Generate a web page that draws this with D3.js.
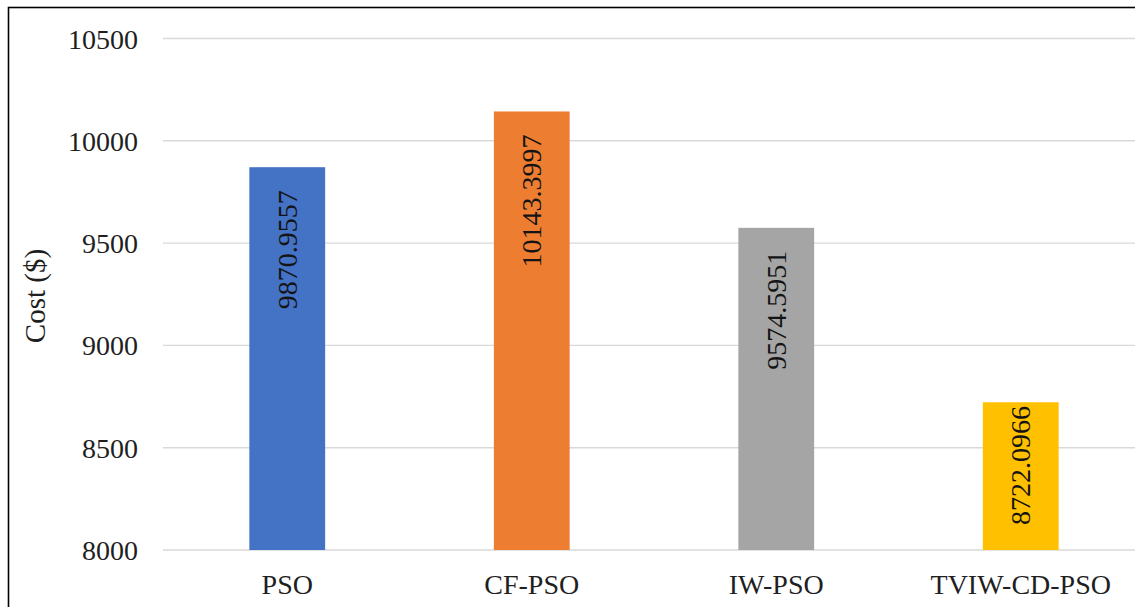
<!DOCTYPE html>
<html>
<head>
<meta charset="utf-8">
<script src="https://cdn.jsdelivr.net/npm/d3@7"></script>
<style>
  html, body { margin: 0; padding: 0; background: #fff; }
  svg { display: block; }
</style>
</head>
<body>
<svg id="chart" width="1135" height="607"></svg>
<script>
// Algorithm names and their resulting cost
const categories = ["PSO", "CF-PSO", "IW-PSO", "TVIW-CD-PSO"];
const costs = [9870.9557, 10143.3997, 9574.5951, 8722.0966];
const costLabels = ["9870.9557", "10143.3997", "9574.5951", "8722.0966"];
const barColors = ["#4472C4", "#ED7D31", "#A5A5A5", "#FFC000"];
const yTicks = [8000, 8500, 9000, 9500, 10000, 10500];

const FONT = "'Liberation Serif', 'Times New Roman', serif";
const svg = d3.select("#chart");

// outer frame
svg.append("rect")
  .attr("x", 8.5).attr("y", 7.5)
  .attr("width", 1140).attr("height", 640)
  .attr("fill", "none").attr("stroke", "#000").attr("stroke-width", 1.6);

const x = d3.scaleBand()
  .domain(categories)
  .range([165, 1143])
  .paddingInner(0.69)
  .paddingOuter(0.345);

const y = d3.scaleLinear()
  .domain([8000, 10500])
  .range([550, 38.5]);

// horizontal gridlines
svg.append("g")
  .selectAll("line")
  .data(yTicks)
  .join("line")
  .attr("x1", 163).attr("x2", 1135)
  .attr("y1", d => y(d)).attr("y2", d => y(d))
  .attr("stroke", "#d9d9d9").attr("stroke-width", 1.4);

// y tick labels
const yAxis = d3.axisLeft(y).tickValues(yTicks).tickSize(0).tickPadding(0).tickFormat(d3.format("d"));
const yg = svg.append("g").attr("transform", "translate(138,0)").call(yAxis);
yg.select(".domain").remove();
yg.attr("font-family", null).attr("font-size", null);
yg.selectAll("text")
  .style("font-family", FONT)
  .style("font-size", "28px")
  .attr("fill", "#1f1f1f")
  .attr("dy", "0.34em");

// x category labels
const xAxis = d3.axisBottom(x).tickSize(0).tickPadding(0);
const xg = svg.append("g").attr("transform", "translate(0,594)").call(xAxis);
xg.select(".domain").remove();
xg.attr("font-family", null).attr("font-size", null);
xg.selectAll("text")
  .style("font-family", FONT)
  .style("font-size", "28px")
  .attr("fill", "#1f1f1f")
  .attr("y", 0).attr("dy", 0);

// axis title
svg.append("text")
  .attr("transform", "translate(45,296) rotate(-90)")
  .attr("text-anchor", "middle")
  .style("font-family", FONT)
  .style("font-size", "29px")
  .attr("fill", "#1f1f1f")
  .text("Cost ($)");

// bars
svg.append("g")
  .selectAll("rect")
  .data(costs)
  .join("rect")
  .attr("x", (d, i) => x(categories[i]))
  .attr("width", x.bandwidth())
  .attr("y", d => y(d))
  .attr("height", d => y(8000) - y(d))
  .attr("fill", (d, i) => barColors[i]);

// rotated value labels inside the top of each bar
const labels = svg.append("g")
  .selectAll("text")
  .data(costs)
  .join("text")
  .style("font-family", FONT)
  .style("font-size", "28px")
  .attr("fill", "#141414")
  .attr("text-anchor", "end")
  .attr("dominant-baseline", "central")
  .text((d, i) => costLabels[i]);

labels.each(function (d, i) {
  const len = this.getComputedTextLength();
  const top = y(d), bottom = y(8000);
  const endY = Math.min(top + 23, bottom - 25 - len);
  const cx = x(categories[i]) + x.bandwidth() / 2;
  d3.select(this).attr("transform", `translate(${cx},${endY}) rotate(-90)`);
});
</script>
</body>
</html>
